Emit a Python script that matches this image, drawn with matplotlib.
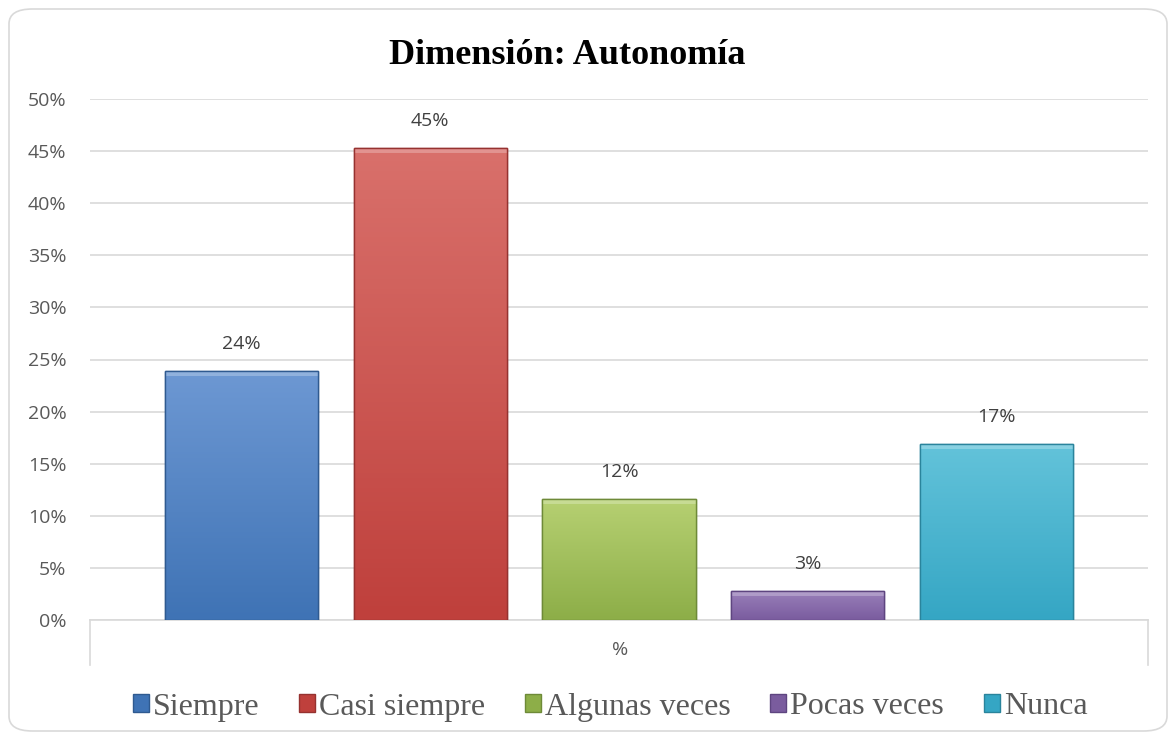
import numpy as np
import matplotlib.pyplot as plt
from matplotlib.patches import FancyBboxPatch, Rectangle
from matplotlib.colors import LinearSegmentedColormap

# datos
categorias = ["Siempre", "Casi siempre", "Algunas veces", "Pocas veces", "Nunca"]
valores = [23.9, 45.3, 11.6, 2.8, 16.9]
etiquetas = ["24%", "45%", "12%", "3%", "17%"]
colores_top = ["#6d98d3", "#d9706b", "#b6d072", "#9a80bb", "#63c3da"]
colores_bot = ["#3f73b5", "#bf403c", "#8dae48", "#7a5c9e", "#35a6c4"]
colores_borde = ["#2f5a90", "#963230", "#6e8a38", "#5e4580", "#2a849c"]

fig = plt.figure(figsize=(11.76, 7.4), dpi=100, facecolor="white")
fig.patches.append(FancyBboxPatch((9 / 1176, 9 / 740), 1158 / 1176, 722 / 740,
                                  boxstyle="round,pad=0,rounding_size=0.02",
                                  transform=fig.transFigure, facecolor="none",
                                  edgecolor="#d9d9d9", linewidth=1.2, zorder=-1))

ax = fig.add_axes([90 / 1176, 120 / 740, 1058 / 1176, 521 / 740])
ax.set_facecolor("none")

x = np.arange(len(categorias))
ancho = 0.81
bars = ax.bar(x, valores, width=ancho, color=colores_bot, edgecolor=colores_borde,
              linewidth=1.0, zorder=3)

# degradado vertical en cada barra
for b, ct, cb in zip(bars, colores_top, colores_bot):
    cmap = LinearSegmentedColormap.from_list("g", [cb, ct])
    grad = np.linspace(0, 1, 100).reshape(-1, 1)
    x0, y0 = b.get_x(), b.get_y()
    w, h = b.get_width(), b.get_height()
    im = ax.imshow(grad, cmap=cmap, origin="lower", aspect="auto",
                   extent=[x0, x0 + w, y0, y0 + h], zorder=3.5)
    im.set_clip_path(b)
    # bisel superior
    ax.add_patch(Rectangle((x0, y0 + h - 0.5), w, 0.5, facecolor="white",
                           alpha=0.25, edgecolor="none", zorder=3.6))
    ax.add_patch(Rectangle((x0, y0), w, h, facecolor="none",
                           edgecolor=b.get_edgecolor(), linewidth=1.0, zorder=3.7))

for xi, v, t in zip(x, valores, etiquetas):
    ax.text(xi, v + 1.7, t, ha="center", va="bottom", fontsize=14,
            color="#404040", family="Open Sans")

ax.set_xlim(-0.8, 4.8)
ax.set_ylim(0, 50)
ax.set_yticks(np.arange(0, 51, 5))
ax.set_yticklabels([f"{v}%" for v in range(0, 51, 5)], fontsize=14,
                   color="#595959", family="Open Sans")
ax.tick_params(axis="y", length=0, pad=17)
ax.set_xticks([])
ax.grid(axis="y", color="#d9d9d9", linewidth=1.2, zorder=0)
ax.set_axisbelow(True)
for s in ["top", "right", "left"]:
    ax.spines[s].set_visible(False)
ax.spines["bottom"].set_color("#d9d9d9")
ax.spines["bottom"].set_linewidth(1.2)

# eje de categoria
fig.add_artist(plt.Line2D([90 / 1176, 90 / 1176], [75 / 740, 120 / 740],
                          color="#d9d9d9", linewidth=1.2))
fig.add_artist(plt.Line2D([1148 / 1176, 1148 / 1176], [75 / 740, 120 / 740],
                          color="#d9d9d9", linewidth=1.2))
fig.text(620 / 1176, 90 / 740, "%", ha="center", va="center", fontsize=14,
         color="#595959", family="Open Sans")

fig.text(567 / 1176, 685 / 740, "Dimensión: Autonomía", ha="center", va="center",
         fontsize=26, fontweight="bold", family="Liberation Serif", color="black")

handles = [Rectangle((0, 0), 1, 1, facecolor=c, edgecolor=e, linewidth=1.0)
           for c, e in zip(colores_bot, colores_borde)]
fig.legend(handles, categorias, loc="center", bbox_to_anchor=(610 / 1176, 33 / 740),
           ncol=5, frameon=False, handlelength=0.5, handleheight=0.5,
           handletextpad=0.12, columnspacing=1.25,
           prop={"family": "Liberation Serif", "size": 23}, labelcolor="#595959")

fig.savefig("out.png", dpi=100)
